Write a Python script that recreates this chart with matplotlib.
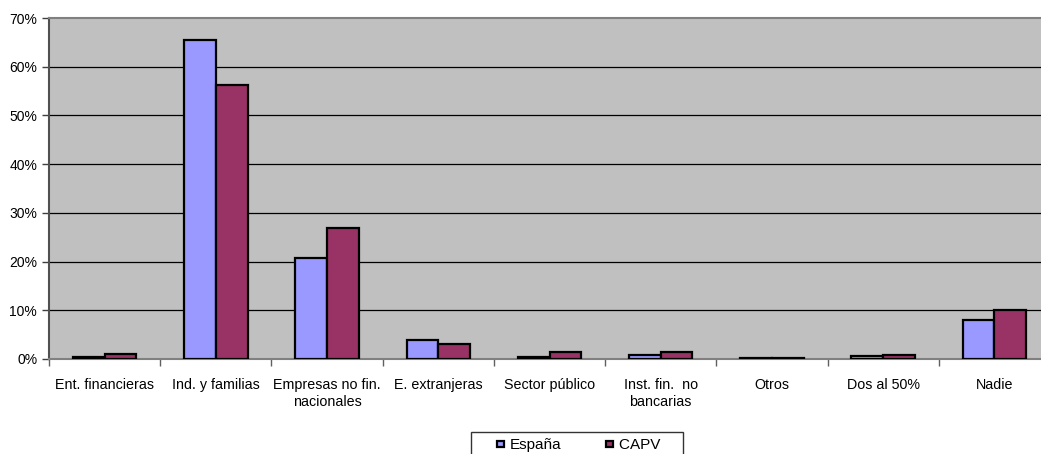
import matplotlib
matplotlib.use("Agg")
import matplotlib.pyplot as plt
import numpy as np
from matplotlib.legend_handler import HandlerPatch
from matplotlib.patches import Rectangle
from matplotlib.ticker import FuncFormatter

plt.rcParams['font.family'] = ['Liberation Sans', 'DejaVu Sans']

categories = ['Ent. financieras', 'Ind. y familias', 'Empresas no fin.\nnacionales',
              'E. extranjeras', 'Sector público', 'Inst. fin.  no\nbancarias',
              'Otros', 'Dos al 50%', 'Nadie']
espana = [0.5, 65.5, 20.8, 3.9, 0.5, 0.9, 0.2, 0.7, 8.0]
capv = [1.0, 56.2, 26.9, 3.1, 1.5, 1.4, 0.3, 0.9, 10.0]
series_names = ['España', 'CAPV']


def small_box(legend, orig_handle, xdescent, ydescent, width, height, fontsize):
    # little square pushed to the right end of the handle area
    s = 0.42 * fontsize
    return Rectangle((width - s - xdescent, (height - s) / 2 - ydescent), s, s)


fig = plt.figure(figsize=(10.41, 4.54), dpi=100)
ax = fig.add_axes([49 / 1041, 95 / 454, 1001 / 1041, 341 / 454])
ax.set_facecolor('#c0c0c0')

x = np.arange(len(categories))
w = 0.285
b1 = ax.bar(x - w / 2, espana, w, color='#9999ff', edgecolor='black', linewidth=1.6,
            zorder=3)
b2 = ax.bar(x + w / 2, capv, w, color='#993366', edgecolor='black', linewidth=1.6,
            zorder=3)

ax.set_xlim(-0.5, len(categories) - 0.5)
ax.set_ylim(0, 70)
ax.set_yticks(range(0, 71, 10))
ax.yaxis.set_major_formatter(FuncFormatter(lambda v, p: '{:.0f}%'.format(v)))
for yv in range(10, 70, 10):
    ax.axhline(yv, color='black', linewidth=0.9, zorder=1)

ax.set_xticks(x)
ax.set_xticklabels(categories, fontsize=10.3)
ax.tick_params(axis='x', length=0, pad=14)
ax.set_xticks(np.arange(-0.5, len(categories), 1), minor=True)
ax.tick_params(axis='x', which='minor', length=5, color='#606060', width=1)
ax.tick_params(axis='y', labelsize=10, length=5, width=1, color='#404040')

ax.spines['left'].set_color('#505050')
ax.spines['left'].set_linewidth(1.5)
ax.spines['bottom'].set_color('#808080')
ax.spines['bottom'].set_linewidth(1.5)
ax.spines['top'].set_color('#808080')
ax.spines['top'].set_linewidth(1.5)
ax.spines['right'].set_visible(False)

leg = fig.legend([b1.patches[0], b2.patches[0]], [series_names[0], series_names[1] + '    '],
                 loc='upper left', bbox_to_anchor=(471 / 1041, 1 - 432 / 454), ncol=2,
                 fontsize=11, frameon=True, fancybox=False, edgecolor='black',
                 handler_map={Rectangle: HandlerPatch(patch_func=small_box)},
                 handlelength=1.75, handleheight=0.7, handletextpad=0.4,
                 columnspacing=1.6, borderpad=0.4, borderaxespad=0)
leg.get_frame().set_linewidth(1.0)

plt.savefig('out.png', dpi=100)
